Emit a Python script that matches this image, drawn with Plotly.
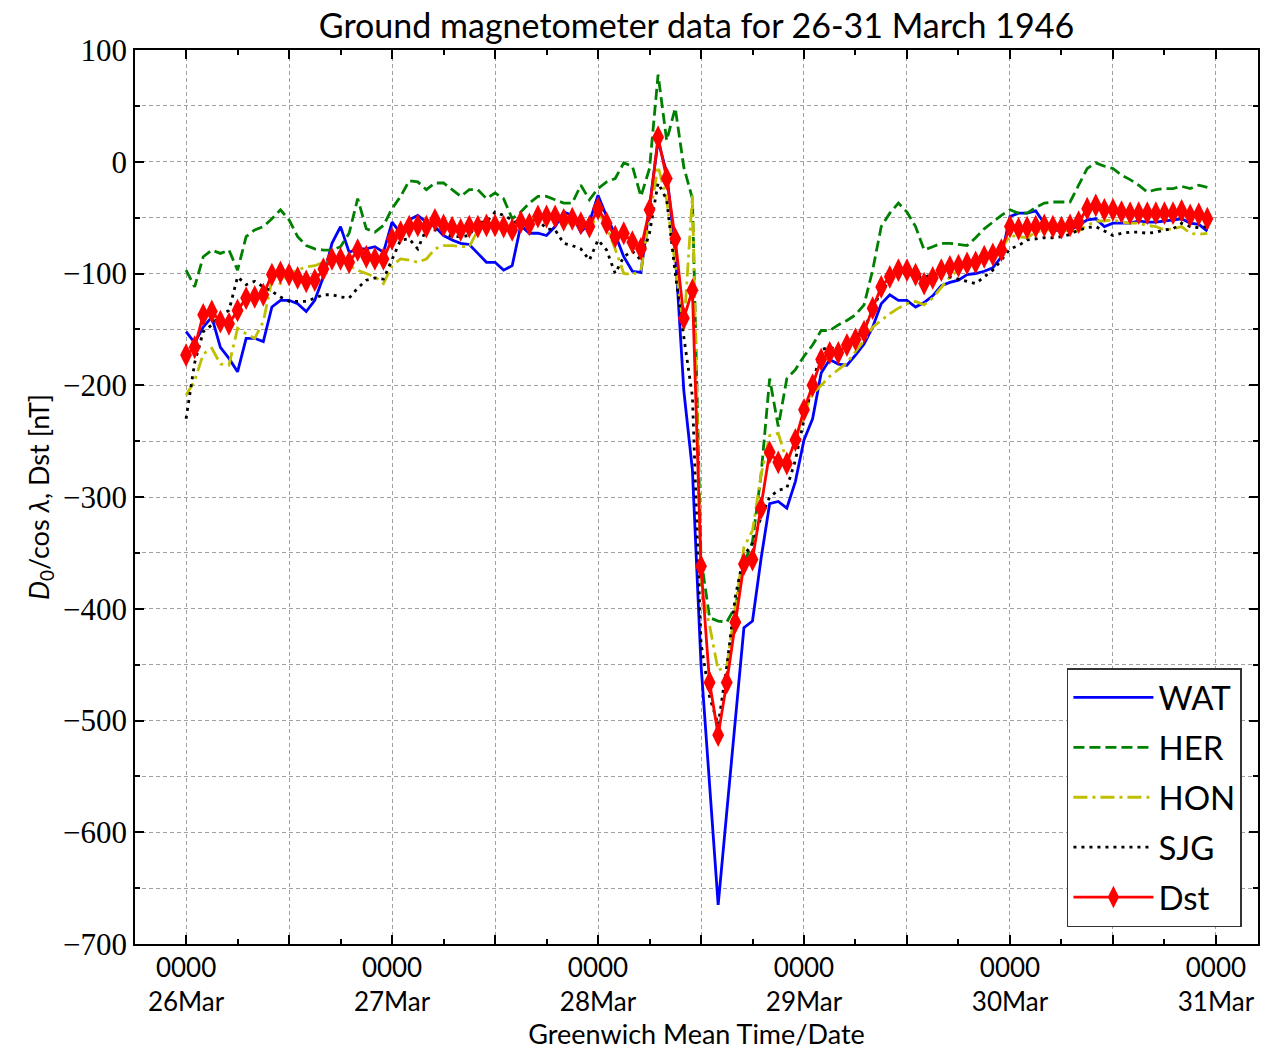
import numpy as np
import pandas as pd
import plotly.graph_objects as go

# hourly values, 26 Mar 00 UT .. 30 Mar 23 UT
wat = [-152, -162, -148, -139, -166, -176, -188, -158, -158, -161, -130, -124, -124, -127, -134, -124, -103, -73, -58, -81, -78, -78, -76, -81,
       -54, -64, -52, -48, -54, -58, -66, -70, -73, -74, -82, -90, -90, -97, -93, -57, -64, -64, -66, -58, -45, -48, -63, -54,
       -30, -49, -65, -85, -98, -99, -40, 19, -10, -80, -205, -276, -450, -558, -665, -582, -500, -417, -411, -355, -306, -304, -310, -286,
       -249, -230, -189, -177, -181, -182, -173, -163, -148, -127, -119, -124, -124, -130, -126, -120, -111, -108, -106, -101, -100, -98, -95, -85,
       -49, -46, -46, -44, -55, -61, -62, -61, -57, -52, -51, -58, -55, -55, -55, -53, -54, -54, -53, -52, -51, -55, -56, -62]
her = [-97, -112, -85, -79, -82, -79, -97, -67, -61, -58, -51, -43, -52, -67, -75, -78, -79, -79, -76, -64, -33, -60, -63, -57,
       -42, -31, -17, -18, -25, -19, -19, -25, -31, -25, -25, -33, -28, -33, -51, -45, -37, -31, -31, -34, -37, -37, -21, -34,
       -24, -18, -15, -1, -4, -31, -6, 78, 19, 48, -5, -33, -355, -408, -411, -412, -398, -360, -340, -280, -194, -237, -194, -186,
       -174, -164, -151, -151, -146, -142, -137, -128, -97, -58, -46, -37, -45, -58, -79, -76, -73, -73, -74, -75, -68, -60, -54, -48,
       -43, -46, -46, -41, -37, -36, -36, -36, -21, -6, -1, -4, -6, -12, -16, -21, -27, -25, -24, -24, -22, -24, -21, -23]
hon = [-209, -196, -172, -167, -181, -182, -149, -154, -158, -143, -106, -109, -101, -97, -94, -93, -90, -89, -88, -93, -97, -100, -103, -109,
       -93, -87, -88, -90, -87, -78, -75, -75, -76, -76, -61, -57, -55, -55, -57, -55, -52, -48, -48, -50, -55, -55, -60, -62,
       -45, -58, -78, -100, -101, -97, -49, -4, -34, -90, -150, -30, -380, -415, -455, -452, -400, -345, -330, -280, -245, -243, -268, -250,
       -225, -208, -200, -192, -186, -180, -170, -160, -148, -142, -136, -131, -127, -125, -128, -122, -112, -103, -97, -90, -88, -85, -82, -78,
       -66, -67, -68, -63, -61, -61, -61, -62, -62, -57, -53, -53, -52, -54, -55, -55, -57, -58, -61, -60, -58, -64, -65, -64]
sjg = [-230, -180, -152, -146, -137, -133, -103, -110, -107, -112, -116, -121, -125, -125, -125, -122, -119, -119, -121, -122, -113, -106, -104, -105,
       -88, -70, -69, -78, -60, -61, -64, -67, -67, -66, -54, -54, -45, -48, -52, -57, -54, -52, -60, -61, -73, -75, -78, -88,
       -70, -79, -100, -85, -80, -88, -64, -19, -34, -100, -157, -210, -431, -479, -504, -452, -389, -352, -342, -318, -300, -294, -292, -267,
       -231, -200, -168, -166, -168, -163, -157, -150, -133, -115, -107, -100, -100, -103, -104, -100, -100, -103, -105, -107, -109, -103, -97, -88,
       -78, -75, -70, -69, -68, -68, -67, -65, -61, -59, -58, -62, -66, -64, -63, -63, -64, -63, -61, -60, -55, -58, -59, -58]
dst = [-173, -166, -137, -134, -143, -145, -133, -122, -121, -119, -101, -99, -101, -104, -107, -106, -96, -87, -87, -90, -79, -85, -87, -87,
       -69, -63, -58, -57, -58, -52, -57, -59, -61, -58, -58, -57, -57, -58, -61, -54, -56, -49, -49, -49, -52, -51, -55, -58,
       -42, -55, -67, -64, -72, -78, -43, 22, -15, -69, -140, -115, -362, -466, -513, -466, -412, -360, -356, -310, -260, -269, -270, -249,
       -222, -200, -177, -171, -171, -164, -159, -152, -131, -112, -103, -97, -97, -101, -109, -104, -97, -94, -93, -91, -90, -85, -83, -79,
       -58, -60, -59, -58, -57, -58, -59, -57, -54, -42, -39, -43, -43, -45, -46, -46, -46, -46, -46, -46, -44, -48, -47, -51]

times = pd.date_range("1946-03-26 00:00", periods=len(dst), freq="h")
day_labels = ["26Mar", "27Mar", "28Mar", "29Mar", "30Mar", "31Mar"]
y_ticks = list(range(-700, 101, 100))

tick_times = pd.date_range("1946-03-26 00:00", "1946-03-31 00:00", freq="12h")
tick_text = []
di = 0
for t in tick_times:
    if t.hour == 0:
        tick_text.append("0000<br>" + day_labels[di])
        di += 1
    else:
        tick_text.append("")

sans = "Lato, 'Open Sans', sans-serif"
serif = "'Liberation Serif', serif"
lw = 2.8

fig = go.Figure()
fig.add_trace(go.Scatter(x=times, y=wat, name="WAT", legendgroup="WAT", mode="lines",
                         line=dict(color="#0000ff", width=lw)))
fig.add_trace(go.Scatter(x=times, y=her, name="HER", legendgroup="HER", mode="lines",
                         line=dict(color="#008000", width=lw, dash="11px,5px")))
fig.add_trace(go.Scatter(x=times, y=hon, name="HON", legendgroup="HON", mode="lines",
                         line=dict(color="#bfbf00", width=lw, dash="14px,5px,3px,5px")))
fig.add_trace(go.Scatter(x=times, y=sjg, name="SJG", legendgroup="SJG", mode="lines",
                         line=dict(color="#000000", width=lw, dash="3px,5px")))
fig.add_trace(go.Scatter(x=times, y=dst, name="Dst", legendgroup="Dst", mode="lines+markers",
                         line=dict(color="#ff0000", width=lw),
                         marker=dict(symbol="diamond-tall", size=17, color="#ff0000")))

fig.update_layout(
    width=1271, height=1051,
    margin=dict(l=135, r=13, t=50, b=107, autoexpand=False),
    paper_bgcolor="white", plot_bgcolor="white",
    title=dict(text="Ground magnetometer data for 26-31 March 1946",
               x=0.5, xanchor="center", y=0.975, yanchor="middle",
               xref="paper",
               font=dict(family=sans, size=34, color="black")),
    showlegend=True,
    legend=dict(x=0.9857, xanchor="right", y=0.019, yanchor="bottom",
                bgcolor="white", bordercolor="#333333", borderwidth=1.5,
                font=dict(family=sans, size=33, color="black"),
                tracegroupgap=4, itemwidth=80),
)

fig.update_xaxes(
    type="date", automargin=False,
    range=["1946-03-25 18:03", "1946-03-31 04:54"],
    tickmode="array", tickvals=tick_times, ticktext=tick_text,
    ticks="inside", ticklen=9, tickwidth=1.5, tickcolor="black",
    showline=True, linecolor="black", linewidth=1.5, mirror="ticks",
    showgrid=True, gridcolor="#a0a0a0", griddash="4px,3px", gridwidth=1,
    zeroline=False,
    tickfont=dict(family=sans, size=26, color="black"),
    title=dict(text="Greenwich Mean Time/Date", font=dict(family=sans, size=27, color="black"),
               standoff=6),
    minor=dict(dtick=6 * 3600 * 1000, tick0="1946-03-26", ticks="inside", ticklen=5,
               tickcolor="black", showgrid=False),
)

fig.update_yaxes(
    automargin=False,
    range=[-700, 100],
    tickmode="array", tickvals=y_ticks,
    ticktext=[("\u2212" + str(-v)) if v < 0 else str(v) for v in y_ticks],
    ticks="inside", ticklen=9, tickwidth=1.5, tickcolor="black",
    showline=True, linecolor="black", linewidth=1.5, mirror="ticks",
    showgrid=True, gridcolor="#a0a0a0", griddash="4px,3px", gridwidth=1,
    zeroline=False,
    tickfont=dict(family=serif, size=31, color="black"),
    title=dict(text="<i>D</i><sub>0</sub>/cos <i>\u03bb</i>, Dst [nT]",
               font=dict(family=sans, size=27, color="black"), standoff=6),
    minor=dict(dtick=50, ticks="inside", ticklen=5, tickcolor="black",
               showgrid=True, gridcolor="#a0a0a0", griddash="4px,3px", gridwidth=1),
)

fig.write_html("out.html", config={"displayModeBar": False},
               post_script="document.body.style.margin='0';document.body.style.overflow='hidden';")
